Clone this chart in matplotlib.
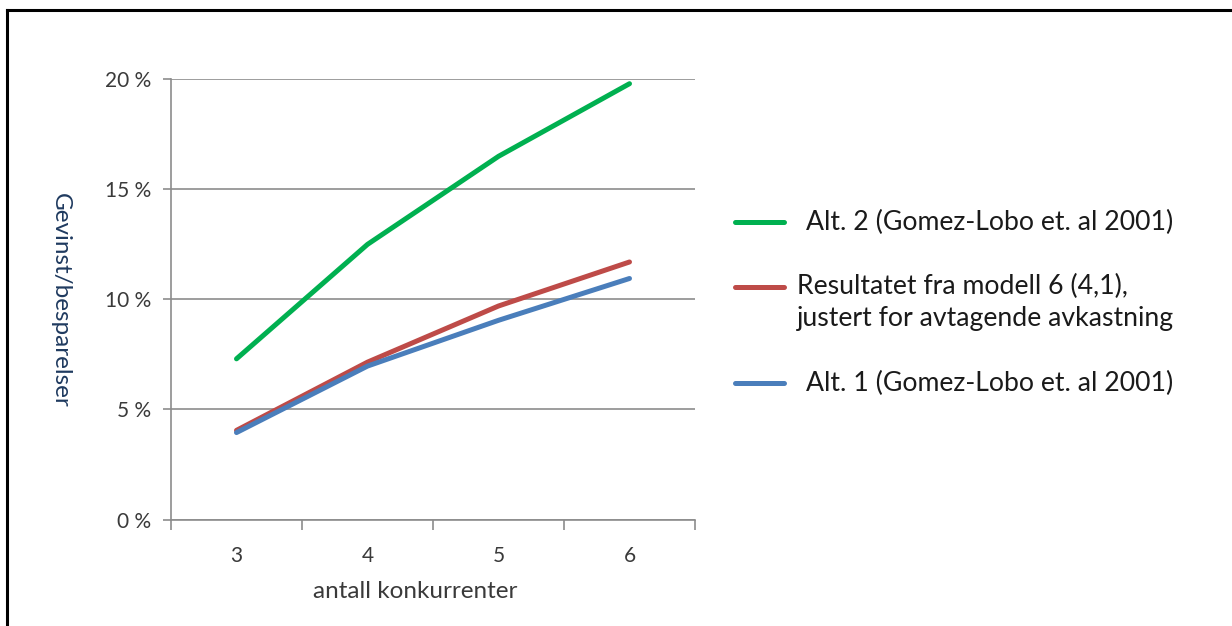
import matplotlib
matplotlib.use('Agg')
import matplotlib.pyplot as plt
from matplotlib.lines import Line2D
import numpy as np

plt.rcParams['font.family'] = ['Lato', 'DejaVu Sans']

# Gevinst/besparelser per antall konkurrenter (i prosent)
konkurrenter = ['3', '4', '5', '6']
alt2 = [7.3, 12.5, 16.5, 19.8]
modell6 = [4.05, 7.15, 9.7, 11.7]
alt1 = [3.95, 6.97, 9.05, 10.95]

series_labels = ['Alt. 2 (Gomez-Lobo et. al 2001)',
                 'Resultatet fra modell 6 (4,1),\njustert for avtagende avkastning',
                 'Alt. 1 (Gomez-Lobo et. al 2001)']
series_colors = ['#00B050', '#BE4B48', '#4A7EBB']
yticks = [0, 5, 10, 15, 20]

W, H = 1232, 626
fig = plt.figure(figsize=(W / 100, H / 100), dpi=100)


def fx(x):
    return x / W


def fy(y):
    return 1 - y / H


ax = fig.add_axes([fx(171), fy(519.5), fx(695) - fx(171), fy(79.3) - fy(519.5)])

x = np.arange(len(konkurrenter))
grid_c = '#8C8C8C'
txt_c = '#3A3A3A'

for vals, c in zip([alt2, modell6, alt1], series_colors):
    ax.plot(x, vals, color=c, lw=3.6, solid_capstyle='round', zorder=3)

ax.set_xlim(-0.5, len(konkurrenter) - 0.5)
ax.set_ylim(0, 20)
ax.set_yticks(yticks)
ax.set_yticklabels([f'{v} %' for v in yticks], fontsize=15, color=txt_c)
ax.yaxis.grid(True, color=grid_c, lw=1.2)
ax.set_axisbelow(True)

# category boundaries as major ticks, labels centred on minor ticks
ax.set_xticks(np.arange(-0.5, len(konkurrenter), 1.0))
ax.set_xticklabels([])
ax.set_xticks(x, minor=True)
ax.set_xticklabels(konkurrenter, minor=True, fontsize=15, color=txt_c)
ax.tick_params(axis='x', which='major', length=7, color=grid_c, width=1.2)
ax.tick_params(axis='x', which='minor', length=0, pad=19)
ax.tick_params(axis='y', length=6, color=grid_c, width=1.2, pad=8)

for s in ['top', 'right']:
    ax.spines[s].set_visible(False)
for s in ['left', 'bottom']:
    ax.spines[s].set_color(grid_c)
    ax.spines[s].set_linewidth(1.2)

fig.text(fx(415), fy(591), 'antall konkurrenter', fontsize=17.5, color=txt_c,
         ha='center', va='center')
fig.text(fx(60), fy(300), 'Gevinst/besparelser', rotation=270, fontsize=17.5,
         color='#1F3A5F', ha='center', va='center')

# legend drawn beside the plot area
leg_font = 19.2
for ly, lab, c in zip([222, 287, 383], series_labels, series_colors):
    fig.add_artist(Line2D([fx(735), fx(784)], [fy(ly), fy(ly)], color=c, lw=3.6,
                          solid_capstyle='round'))
    if '\n' in lab:
        fig.text(fx(797), fy(ly - 13), lab, fontsize=leg_font, color='#1A1A1A',
                 ha='left', va='top', linespacing=1.35)
    else:
        fig.text(fx(806), fy(ly), lab, fontsize=leg_font, color='#1A1A1A',
                 ha='left', va='center')

# frame edges
fig.add_artist(Line2D([fx(7), fx(7)], [fy(10), 0], color='black', lw=2.2))
fig.add_artist(Line2D([fx(7), 1], [fy(10), fy(10)], color='black', lw=2.2))

fig.savefig('out.png', dpi=100)
